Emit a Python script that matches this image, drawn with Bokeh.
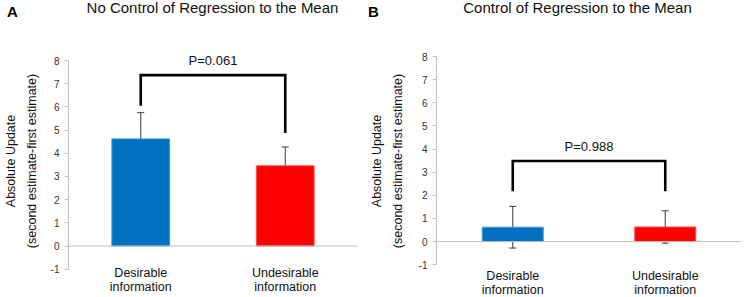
from bokeh.plotting import figure
from bokeh.models import Range1d, FactorRange, Span, Label, Whisker, ColumnDataSource, TeeHead
from bokeh.layouts import row, column
from bokeh.core.properties import value
from bokeh.embed import file_html
from bokeh.resources import INLINE

# ---- data ----
categories = ["Desirable\ninformation", "Undesirable\ninformation"]
bar_colors = ["#0070C0", "#FF0000"]
bar_outline = ["#4a95d3", "#ff5050"]

means_a = [4.62, 3.46]
errors_a = [1.13, 0.81]
means_b = [0.62, 0.63]
errors_b = [0.90, 0.70]

bracket_a = [6.05, 7.37, 4.87]   # left leg bottom, top, right leg bottom
bracket_b = [2.18, 3.48, 2.18]

pvalue_a = "P=0.061"
pvalue_b = "P=0.988"
pvalue_y = [8.0, 4.12]

titles = ["No Control of Regression to the Mean", "Control of Regression to the Mean"]
panel_letters = ["A", "B"]
ylabel_text = "Absolute Update\n(second estimate-first estimate)"
y_ticks = [-1, 0, 1, 2, 3, 4, 5, 6, 7, 8]

FONT = "Liberation Sans"
TOTAL_W, TOTAL_H = 746, 297
HEAD_H = 24
H = TOTAL_H - HEAD_H


def make_panel(means, errors, bracket, ptext, py, geom):
    W, fl, fr = geom["W"], geom["fl"], geom["fr"]
    # pixel targets (absolute page coords) of the 8 and -1 ticks
    y8, ym1 = geom["y8"], geom["ym1"]
    unit = (ym1 - y8) / 9.0
    y_end = 8 + (y8 - HEAD_H) / unit
    y_start = -1 - (TOTAL_H - ym1) / unit

    p = figure(width=W, height=H, x_range=FactorRange(*categories),
               y_range=Range1d(y_start, y_end), title=None,
               output_backend="svg", toolbar_location=None,
               min_border_left=fl, min_border_right=fr, min_border_top=0, min_border_bottom=0)
    p.outline_line_color = None
    p.xgrid.visible = False
    p.ygrid.visible = False
    p.background_fill_color = "white"
    p.border_fill_color = "white"

    src = ColumnDataSource(dict(
        x=categories, top=means, color=bar_colors, outline=bar_outline,
        upper=[m + e for m, e in zip(means, errors)],
        lower=[m - e for m, e in zip(means, errors)],
    ))
    p.vbar(x="x", top="top", bottom=0, width=0.4, source=src,
           fill_color="color", line_color="outline", line_width=1)

    # zero line (the category axis of the original chart)
    p.add_layout(Span(location=0, dimension="width", line_color="#bfbfbf", line_width=1))

    wcol = "#3a3a3a"
    p.add_layout(Whisker(base="x", upper="upper", lower="lower", source=src, dimension="height",
                         line_color=wcol, line_width=1,
                         upper_head=TeeHead(size=7, line_color=wcol, line_width=1),
                         lower_head=TeeHead(size=7, line_color=wcol, line_width=1)))

    # significance bracket
    p.line(x=[categories[0], categories[0], categories[1], categories[1]],
           y=[bracket[0], bracket[1], bracket[1], bracket[2]],
           line_color="black", line_width=2.6, line_join="miter")

    p.add_layout(Label(x=1.0, y=py, text=ptext, text_align="center", text_baseline="middle",
                       text_font=FONT, text_font_size="13px", text_color="#111111"))

    # category labels under the axis
    lab_y = -1 - (geom["catc"] - ym1) / unit
    p.text(x=categories, y=[lab_y, lab_y], text=categories, text_align="center",
           text_baseline="middle", text_font=value(FONT), text_font_size="12.5px",
           text_color="#111111", text_line_height=1.0)

    # y axis
    ya = p.yaxis[0]
    ya.bounds = (-1, 8)
    ya.ticker = y_ticks
    ya.major_label_overrides = {-1: "-1"}
    ya.axis_line_color = "#bfbfbf"
    ya.major_tick_line_color = "#bfbfbf"
    ya.major_tick_in = 0
    ya.major_tick_out = 4
    ya.minor_tick_line_color = None
    ya.minor_tick_in = 0
    ya.minor_tick_out = 0
    ya.major_label_standoff = 5
    ya.major_label_text_font = FONT
    ya.major_label_text_font_size = "10px"
    ya.major_label_text_color = "#333333"
    ya.axis_label = ylabel_text
    ya.axis_label_text_font = FONT
    ya.axis_label_text_font_size = "12.5px"
    ya.axis_label_text_font_style = "normal"
    ya.axis_label_text_color = "#111111"
    ya.axis_label_text_line_height = 1.5
    ya.axis_label_standoff = geom["ylstand"]

    p.xaxis.visible = False
    return p


geom_a = dict(W=366, fl=65, fr=9, y8=60, ym1=268.7, catc=279.7, ylstand=9)
geom_b = dict(W=380, fl=67, fr=5, y8=56, ym1=264.2, catc=282.2, ylstand=11)

pa = make_panel(means_a, errors_a, bracket_a, pvalue_a, pvalue_y[0], geom_a)
pb = make_panel(means_b, errors_b, bracket_b, pvalue_b, pvalue_y[1], geom_b)

# header strip with panel letters and titles
head = figure(width=TOTAL_W, height=HEAD_H, x_range=Range1d(0, TOTAL_W), y_range=Range1d(HEAD_H, 0),
              output_backend="svg", toolbar_location=None, title=None,
              min_border_left=0, min_border_right=0, min_border_top=0, min_border_bottom=0)
head.axis.visible = False
head.grid.visible = False
head.outline_line_color = None
head.text(x=[212, 577], y=[7, 7], text=titles, text_align="center", text_baseline="middle",
          text_font=value(FONT), text_font_size="15px", text_color="#111111")
head.text(x=[12, 373], y=[11, 11], text=panel_letters, text_align="center",
          text_baseline="middle", text_font=value(FONT), text_font_size="15px",
          text_font_style="bold", text_color="black")

layout = column(head, row(pa, pb))
open("out.html", "w").write(file_html(layout, INLINE))
